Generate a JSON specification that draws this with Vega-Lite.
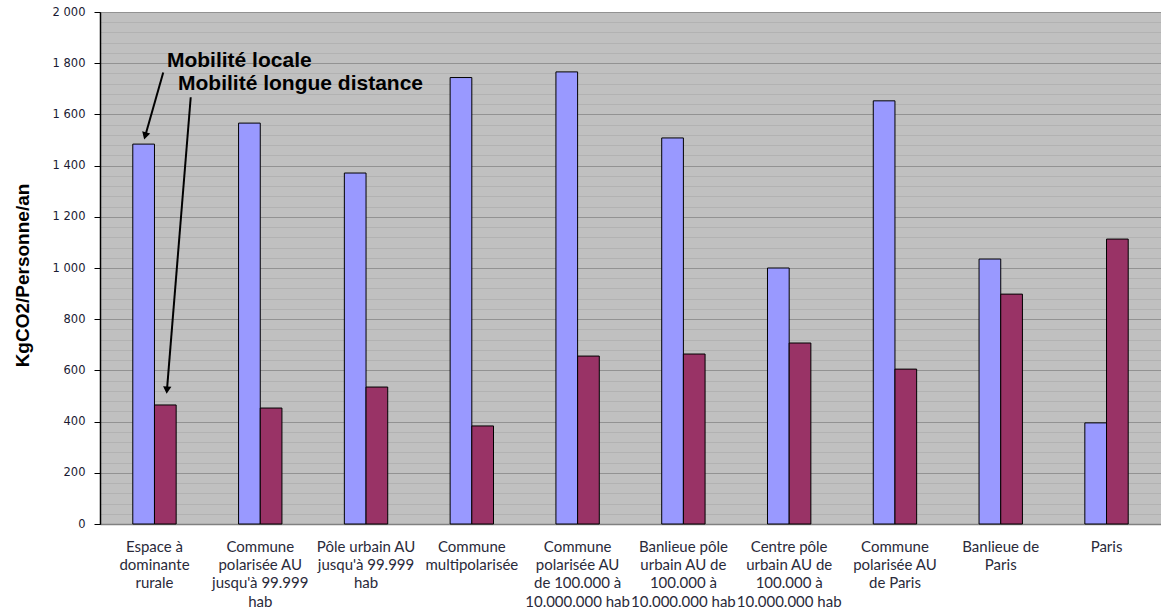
{
  "$schema": "https://vega.github.io/schema/vega-lite/v6.json",
  "width": 1061,
  "height": 512,
  "autosize": {"type": "none"},
  "padding": {"left": 100, "top": 12, "right": 0, "bottom": 91},
  "background": "#ffffff",
  "config": {"view": {"fill": "#C0C0C0", "stroke": "#000000", "strokeWidth": 1}},
  "datasets": {
    "barres": [
      {"categorie": "Espace à|dominante|rurale", "serie": "Mobilité locale", "valeur": 1484},
      {"categorie": "Espace à|dominante|rurale", "serie": "Mobilité longue distance", "valeur": 465},
      {"categorie": "Commune|polarisée AU|jusqu'à 99.999|hab", "serie": "Mobilité locale", "valeur": 1566},
      {"categorie": "Commune|polarisée AU|jusqu'à 99.999|hab", "serie": "Mobilité longue distance", "valeur": 453},
      {"categorie": "Pôle urbain AU|jusqu'à 99.999|hab", "serie": "Mobilité locale", "valeur": 1371},
      {"categorie": "Pôle urbain AU|jusqu'à 99.999|hab", "serie": "Mobilité longue distance", "valeur": 535},
      {"categorie": "Commune|multipolarisée", "serie": "Mobilité locale", "valeur": 1744},
      {"categorie": "Commune|multipolarisée", "serie": "Mobilité longue distance", "valeur": 383},
      {"categorie": "Commune|polarisée AU|de 100.000 à|10.000.000 hab", "serie": "Mobilité locale", "valeur": 1766},
      {"categorie": "Commune|polarisée AU|de 100.000 à|10.000.000 hab", "serie": "Mobilité longue distance", "valeur": 656},
      {"categorie": "Banlieue pôle|urbain AU de|100.000 à|10.000.000 hab", "serie": "Mobilité locale", "valeur": 1508},
      {"categorie": "Banlieue pôle|urbain AU de|100.000 à|10.000.000 hab", "serie": "Mobilité longue distance", "valeur": 664},
      {"categorie": "Centre pôle|urbain AU de|100.000 à|10.000.000 hab", "serie": "Mobilité locale", "valeur": 1000},
      {"categorie": "Centre pôle|urbain AU de|100.000 à|10.000.000 hab", "serie": "Mobilité longue distance", "valeur": 707},
      {"categorie": "Commune|polarisée AU|de Paris", "serie": "Mobilité locale", "valeur": 1653},
      {"categorie": "Commune|polarisée AU|de Paris", "serie": "Mobilité longue distance", "valeur": 605},
      {"categorie": "Banlieue de|Paris", "serie": "Mobilité locale", "valeur": 1035},
      {"categorie": "Banlieue de|Paris", "serie": "Mobilité longue distance", "valeur": 898},
      {"categorie": "Paris", "serie": "Mobilité locale", "valeur": 395},
      {"categorie": "Paris", "serie": "Mobilité longue distance", "valeur": 1113}
    ],
    "fleches": [
      {"fleche": 1, "u0": 0.596, "v0": 1764, "u1": 0.426, "v1": 1516},
      {"fleche": 2, "u0": 0.855, "v0": 1667, "u1": 0.631, "v1": 523}
    ],
    "etiquettes": [
      {"texte": "Mobilité locale", "u": 0.631, "v": 1810},
      {"texte": "Mobilité longue  distance", "u": 0.735, "v": 1717}
    ]
  },
  "layer": [
    {
      "data": {"name": "barres"},
      "mark": {"type": "bar", "stroke": "#000000", "strokeWidth": 1},
      "encoding": {
        "x": {
          "field": "categorie", "type": "nominal", "sort": null,
          "scale": {"paddingInner": 0.59, "paddingOuter": 0.31},
          "axis": {
            "title": null, "labelAngle": 0, "ticks": false,
            "domainColor": "#808080", "domainWidth": 1.5,
            "labelExpr": "split(datum.value, '|')",
            "labelFont": "Lato", "labelFontSize": 15, "labelColor": "#2a2a3a",
            "labelLineHeight": 18.4, "labelBaseline": "top", "labelPadding": 15,
            "labelLimit": 0, "labelOverlap": false, "grid": false
          }
        },
        "xOffset": {"field": "serie", "type": "nominal", "sort": null, "scale": {"paddingInner": 0, "paddingOuter": 0}},
        "y": {
          "field": "valeur", "type": "quantitative",
          "scale": {"domain": [0, 2000], "nice": false},
          "axis": {
            "title": "KgCO2/Personne/an",
            "titleFont": "Liberation Sans", "titleFontSize": 19, "titleFontWeight": "bold", "titleColor": "#000000",
            "titleAngle": -90, "titleX": -78, "titleY": 263, "titleAlign": "center", "titleBaseline": "middle",
            "values": [0, 200, 400, 600, 800, 1000, 1200, 1400, 1600, 1800, 2000],
            "labelExpr": "replace(format(datum.value, ','), ',', ' ')",
            "labelFont": "DejaVu Sans", "labelFontSize": 11.5, "labelColor": "#1a1a33", "labelPadding": 9,
            "domainColor": "#000000", "domainWidth": 1.5,
            "tickColor": "#000000", "tickSize": 6, "tickWidth": 1,
            "grid": true, "gridColor": "#929292", "gridWidth": 1.2
          }
        },
        "color": {
          "field": "serie", "type": "nominal",
          "scale": {"domain": ["Mobilité locale", "Mobilité longue distance"], "range": ["#9999FF", "#993366"]},
          "legend": null
        }
      }
    },
    {
      "data": {"name": "fleches"},
      "mark": {"type": "rule", "stroke": "#000000", "strokeWidth": 2},
      "encoding": {
        "x": {"field": "u0", "type": "quantitative", "scale": {"domain": [0, 10], "nice": false, "zero": false}, "axis": null},
        "x2": {"field": "u1"},
        "y": {
          "field": "v0", "type": "quantitative",
          "axis": {
            "orient": "left", "title": null, "labels": false, "ticks": false, "domain": false,
            "grid": true, "gridColor": "#b2b2b2", "gridWidth": 1,
            "values": [40, 80, 120, 160, 240, 280, 320, 360, 440, 480, 520, 560, 640, 680, 720, 760, 840, 880, 920, 960, 1040, 1080, 1120, 1160, 1240, 1280, 1320, 1360, 1440, 1480, 1520, 1560, 1640, 1680, 1720, 1760, 1840, 1880, 1920, 1960]
          }
        },
        "y2": {"field": "v1"}
      }
    },
    {
      "data": {"name": "fleches"},
      "transform": [{"filter": "datum.fleche == 1"}],
      "mark": {"type": "point", "shape": "triangle-down", "filled": true, "color": "#000000", "size": 70, "angle": 16, "opacity": 1},
      "encoding": {
        "x": {"field": "u1", "type": "quantitative", "scale": {"domain": [0, 10], "nice": false, "zero": false}, "axis": null},
        "y": {"field": "v1", "type": "quantitative", "axis": null}
      }
    },
    {
      "data": {"name": "fleches"},
      "transform": [{"filter": "datum.fleche == 2"}],
      "mark": {"type": "point", "shape": "triangle-down", "filled": true, "color": "#000000", "size": 70, "angle": 5, "opacity": 1},
      "encoding": {
        "x": {"field": "u1", "type": "quantitative", "scale": {"domain": [0, 10], "nice": false, "zero": false}, "axis": null},
        "y": {"field": "v1", "type": "quantitative", "axis": null}
      }
    },
    {
      "data": {"name": "etiquettes"},
      "mark": {"type": "text", "align": "left", "baseline": "middle", "font": "Liberation Sans", "fontSize": 21, "fontWeight": "bold", "color": "#000000"},
      "encoding": {
        "x": {"field": "u", "type": "quantitative", "scale": {"domain": [0, 10], "nice": false, "zero": false}, "axis": null},
        "y": {"field": "v", "type": "quantitative", "axis": null},
        "text": {"field": "texte"}
      }
    }
  ],
  "resolve": {"scale": {"x": "independent"}, "axis": {"x": "independent", "y": "independent"}}
}
